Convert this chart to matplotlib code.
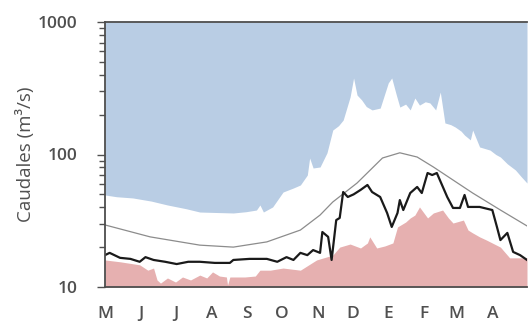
import matplotlib.pyplot as plt
from matplotlib.ticker import FixedLocator, NullFormatter

# day of hydrological year (May 1 = 0) and flow in m3/s
max_days = [0, 10, 24, 40, 54, 70, 82, 96, 111, 122, 131, 134, 137, 145, 154, 163, 169,
            175, 177, 180, 186, 192, 197, 202, 206, 212, 215, 218, 222, 226, 231, 238, 245,
            248, 252, 255, 260, 264, 268, 272, 277, 281, 286, 290, 294, 299, 303, 308, 311,
            316, 318, 324, 333, 338, 342, 348, 355, 360, 365]
max_flow = [49.5, 48.0, 47.0, 44.5, 41.6, 39.0, 36.8, 36.5, 36.2, 37.0, 38.1, 41.6, 36.8,
            40.2, 52.1, 55.9, 58.9, 70.0, 94.1, 79.1, 80.5, 103, 153, 165, 182, 272, 378,
            281, 258, 230, 217, 224, 347, 378, 281, 228, 240, 217, 267, 236, 250, 245, 217,
            296, 173, 168, 161, 150, 140, 129, 153, 114, 108, 100, 95.7, 85.0, 76.4, 68.0,
            60.9]

min_days = [0, 13, 30, 37, 42, 45, 48, 54, 61, 67, 74, 82, 88, 93, 99, 105, 106, 108, 121,
            130, 134, 143, 154, 169, 183, 197, 203, 212, 221, 227, 229, 235, 242, 249, 253,
            260, 264, 268, 272, 279, 284, 292, 297, 301, 310, 314, 318, 324, 330, 342, 350,
            359, 365]
min_flow = [16.0, 15.5, 14.7, 13.4, 13.9, 11.3, 10.7, 11.7, 10.9, 11.9, 11.3, 12.3, 11.7,
            13.0, 12.1, 11.9, 10.35, 11.9, 11.9, 12.1, 13.4, 13.4, 13.9, 13.4, 16.0, 17.4,
            20.0, 21.1, 19.7, 21.5, 23.9, 19.7, 20.4, 21.5, 28.4, 30.9, 33.2, 34.9, 40.2,
            33.2, 36.2, 38.1, 33.2, 30.4, 32.0, 26.9, 25.6, 23.9, 22.6, 20.0, 16.6, 16.6,
            16.6]

mean_days = [0, 39, 82, 111, 140, 169, 186, 197, 218, 240, 255, 270, 284, 318, 342, 365]
mean_flow = [29.4, 23.9, 20.7, 20.0, 21.9, 26.9, 34.9, 43.8, 60.9, 94.1, 103, 95.7, 80.5,
             51.2, 38.1, 28.9]

year_days = [0, 4, 13, 22, 30, 35, 42, 52, 62, 72, 82, 95, 108, 111, 125, 140, 149, 157,
             163, 169, 175, 180, 186, 188, 193, 196, 200, 203, 206, 210, 215, 221, 227, 231,
             238, 244, 248, 253, 255, 258, 264, 270, 274, 279, 283, 287, 296, 301, 307, 311,
             314, 324, 335, 339, 342, 348, 353, 359, 365]
year_flow = [17.4, 18.1, 16.6, 16.3, 15.5, 16.8, 16.0, 15.5, 14.9, 15.5, 15.5, 15.2, 15.2,
             16.0, 16.3, 16.3, 15.5, 16.8, 16.0, 18.1, 17.4, 19.0, 18.1, 26.0, 23.9, 16.0,
             32.0, 33.2, 52.1, 47.8, 50.0, 54.0, 58.9, 52.1, 47.8, 36.2, 28.4, 36.2, 45.3,
             38.1, 51.2, 56.9, 51.2, 72.5, 70.0, 72.5, 47.8, 39.5, 39.5, 49.5, 40.2, 40.2,
             38.1, 28.4, 22.6, 25.6, 18.4, 17.4, 16.0]

month_starts = [0, 31, 61, 92, 123, 153, 184, 214, 245, 276, 304, 335]
month_labels = ['M', 'J', 'J', 'A', 'S', 'O', 'N', 'D', 'E', 'F', 'M', 'A']

grey = '#505050'
plt.rcParams['font.family'] = ['Open Sans', 'DejaVu Sans']

fig = plt.figure(figsize=(5.28, 3.25), dpi=100)
ax = fig.add_axes([105 / 528, 38 / 325, 422 / 528, 265 / 325])

ax.fill_between(max_days, max_flow, 1000, color='#b9cde4', lw=0)
ax.fill_between(min_days, 10, min_flow, color='#e6b0b0', lw=0)
ax.plot(mean_days, mean_flow, color='#8c8c8c', lw=0.9)
ax.plot(year_days, year_flow, color='#1a1a1a', lw=1.6)

ax.set_yscale('log')
ax.set_ylim(10, 1000)
ax.set_xlim(0, 365)

ax.yaxis.set_major_locator(FixedLocator([10, 100, 1000]))
ax.yaxis.set_minor_locator(FixedLocator([v * d for d in (10, 100) for v in range(2, 10)]))
ax.yaxis.set_minor_formatter(NullFormatter())
ax.set_yticklabels(['10', '100', '1000'])
ax.tick_params(axis='y', which='major', length=6, width=1, color=grey,
               labelsize=12.5, labelcolor=grey, pad=14)
ax.tick_params(axis='y', which='minor', length=4, width=1, color=grey)

ax.set_xticks(month_starts)
ax.set_xticklabels(month_labels)
ax.tick_params(axis='x', length=0, labelsize=12.5, labelcolor=grey, pad=14)
for lbl in ax.get_xticklabels() + ax.get_yticklabels():
    lbl.set_fontweight('semibold')

ax.set_ylabel('Caudales (m³/s)', color=grey, fontsize=13.5, labelpad=2)

for side in ('top', 'bottom', 'left'):
    ax.spines[side].set_color('#4d4d4d')
    ax.spines[side].set_linewidth(1.3)
ax.spines['right'].set_visible(False)

fig.savefig('out.png', dpi=100)
